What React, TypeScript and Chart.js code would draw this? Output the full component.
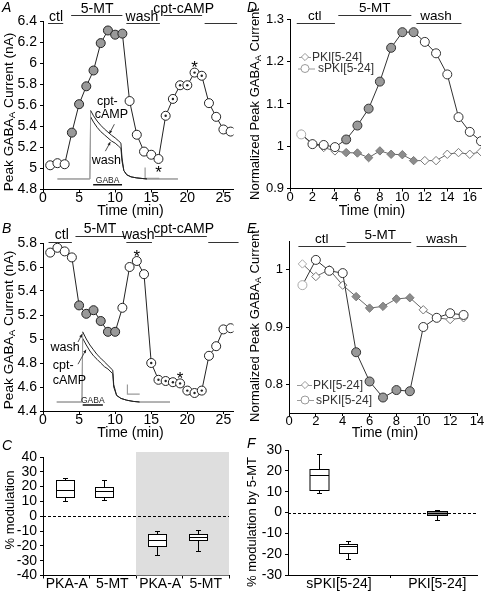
import React, { useEffect, useRef } from 'react';
import { Chart, registerables } from 'chart.js';

Chart.register(...registerables);

const FONT = '"Liberation Sans", Arial, Helvetica, sans-serif';
const PAGE_W = 490;
const PAGE_H = 596;
const GRAY = '#999999';

// ======================= DATA =======================
// ---- Panel A (example cell, 5-MT enhances) ----
const timeA = [1, 2, 3, 4, 5, 6, 7, 8, 9, 10, 11, 12, 13, 14, 15, 16, 17, 18, 19, 20, 21, 22, 23, 24, 25, 26];
const currentA = [5.03, 5.05, 5.04, 5.34, 5.61, 5.78, 5.93, 6.19, 6.31, 6.27, 6.28, 5.64, 5.32, 5.16, 5.13, 5.09, 5.5, 5.66, 5.79, 5.79, 5.91, 5.88, 5.62, 5.49, 5.37, 5.35];
const phaseA = ['w', 'w', 'w', 'g', 'g', 'g', 'g', 'g', 'g', 'g', 'g', 'w', 'w', 'w', 'w', 'w', 'p', 'p', 'p', 'p', 'p', 'p', 'w', 'w', 'w', 'w'];
const starIdxA = [15, 20];
const starDirA = [1, -1];
const periodsA: [string, number, number, number, number][] = [
  ['ctl', 0.7, 2.8, 1.8, 0],
  ['5-MT', 3.9, 11.0, 7.5, 1],
  ['wash', 11.55, 16.2, 13.7, 0],
  ['cpt-cAMP', 16.7, 22.05, 19.5, 1],
  ['', 22.4, 26.9, 0, 0],
];
const yTicksA = [4.8, 5, 5.2, 5.4, 5.6, 5.8, 6, 6.2, 6.4];
const xTicksAB = [0, 5, 10, 15, 20, 25];
// inset current traces (A)
const traceTimeA = [2.0, 6.5, 6.6, 7.0, 7.5, 8.0, 8.5, 9.0, 9.5, 10.0, 10.5, 10.8, 10.95, 11.2, 11.6, 12.2, 13.0, 14.4, 18.7];
const traceCptA = [4.9, 4.9, 5.55, 5.5, 5.45, 5.41, 5.375, 5.345, 5.315, 5.29, 5.26, 5.24, 5.1, 4.98, 4.94, 4.92, 4.91, 4.9, 4.9];
const traceWashA = [4.9, 4.9, 5.49, 5.44, 5.39, 5.35, 5.32, 5.29, 5.26, 5.24, 5.21, 5.19, 5.07, 4.98, 4.94, 4.92, 4.91, 4.9, 4.9];
const gabaTimeA = [6.95, 10.95];
const gabaLevelA = 4.845;
const scaleTimeA = [14.15, 14.15, 16.1];
const scaleValA = [5.01, 4.905, 4.905];
const insetTextA: [string, number, number, CanvasTextAlign][] = [
  ['cpt-', 8.92, 5.633, 'center'],
  ['cAMP', 9.47, 5.51, 'center'],
  ['wash', 8.78, 5.078, 'center'],
];
const arrowsA = [
  [9.89, 5.42, 9.2, 5.33],
  [8.64, 5.164, 9.33, 5.25],
];

// ---- Panel B (example cell, 5-MT inhibits) ----
const timeB = [1, 2, 3, 4, 5, 6, 7, 8, 9, 10, 11, 12, 13, 14, 15, 16, 17, 18, 19, 20, 21, 22, 23, 24, 25, 26];
const currentB = [5.72, 5.76, 5.73, 5.68, 5.28, 5.21, 5.24, 5.15, 5.06, 5.06, 5.26, 5.6, 5.65, 5.54, 4.8, 4.66, 4.65, 4.64, 4.63, 4.57, 4.55, 4.57, 4.86, 4.94, 5.08, 5.09];
const phaseB = ['w', 'w', 'w', 'w', 'g', 'g', 'g', 'g', 'g', 'g', 'w', 'w', 'w', 'w', 'p', 'p', 'p', 'p', 'p', 'p', 'p', 'p', 'w', 'w', 'w', 'w'];
const starIdxB = [12, 18];
const starDirB = [-1, -1];
const periodsB: [string, number, number, number, number][] = [
  ['ctl', 0.77, 4.0, 2.6, 0],
  ['5-MT', 4.5, 11.4, 7.9, 1],
  ['wash', 11.55, 15.1, 13.2, 0],
  ['cpt-cAMP', 15.5, 22.7, 19.5, 1],
  ['', 22.9, 27.1, 0, 0],
];
const yTicksB = [4.4, 4.6, 4.8, 5, 5.2, 5.4, 5.6, 5.8];
const traceTimeB = [1.9, 5.4, 5.5, 6.0, 6.5, 7.0, 7.5, 8.0, 8.5, 9.0, 9.67, 9.8, 10.2, 10.8, 11.6, 12.5, 13.4, 17.6];
const traceWashB = [4.475, 4.475, 5.06, 5.0, 4.95, 4.91, 4.87, 4.84, 4.81, 4.78, 4.74, 4.62, 4.53, 4.505, 4.49, 4.48, 4.475, 4.475];
const traceCptB = [4.475, 4.475, 5.005, 4.95, 4.9, 4.86, 4.83, 4.8, 4.77, 4.75, 4.71, 4.6, 4.53, 4.505, 4.49, 4.48, 4.475, 4.475];
const gabaTimeB = [5.5, 8.3];
const gabaLevelB = 4.45;
const scaleTimeB = [11.7, 11.7, 13.4];
const scaleValB = [4.62, 4.54, 4.54];
const insetTextB: [string, number, number, CanvasTextAlign][] = [
  ['wash', 3.05, 4.925, 'center'],
  ['cpt-', 1.35, 4.775, 'left'],
  ['cAMP', 1.35, 4.65, 'left'],
];
const arrowsB = [
  [4.85, 4.975, 5.41, 5.04],
  [4.85, 4.79, 5.96, 4.91],
];

// ---- Panel C (box plots, % modulation) ----
const catNamesC = ['PKA-A', '5-MT', 'PKA-A', '5-MT'];
const catPosC = [0.51, 1.49, 2.52, 3.5];
const boxPosC = [0.48, 1.32, 2.46, 3.33];
const minC = [10.5, 10.9, -26.4, -23.2];
const q1C = [12.7, 13.2, -19.8, -16.1];
const medC = [18, 16.8, -15.7, -14.1];
const q3C = [24.5, 20, -12.3, -11.8];
const maxC = [25.7, 24.5, -10, -9.3];
const xTicksC = [0, 0.51, 1, 1.49, 2, 2.52, 3, 3.5, 4];
const yTicksC = [-40, -30, -20, -10, 0, 10, 20, 30, 40];

// ---- Panel D (normalized, 5-MT enhancing cells) ----
const timeD = [1, 2, 3, 4, 5, 6, 7, 8, 9, 10, 11, 12, 13, 14, 15, 16, 17];
const sPkiD = [1.028, 1.005, 1.003, 0.998, 1.016, 1.049, 1.089, 1.153, 1.233, 1.27, 1.27, 1.247, 1.22, 1.17, 1.069, 1.034, 1.012];
const pkiD = [1.029, 1.006, 0.997, 0.989, 0.985, 0.984, 0.973, 0.989, 0.981, 0.98, 0.966, 0.966, 0.966, 0.981, 0.985, 0.981, 0.987];
const phaseD = ['w', 'w', 'w', 'w', 'g', 'g', 'g', 'g', 'g', 'g', 'g', 'w', 'w', 'w', 'w', 'w', 'w'];
const periodsD: [string, number, number, number, number][] = [
  ['ctl', 0.6, 4.0, 2.2, 0],
  ['5-MT', 4.3, 10.8, 7.55, 1],
  ['wash', 11.25, 15.26, 13.0, 0],
];
const xTicksD = [0, 2, 4, 6, 8, 10, 12, 14, 16];
const yTicksD = [0.9, 1, 1.1, 1.2, 1.3];

// ---- Panel E (normalized, 5-MT inhibiting cells) ----
const timeE = [1, 2, 3, 4, 5, 6, 7, 8, 9, 10, 11, 12, 13];
const sPkiE = [0.973, 1.017, 0.998, 0.994, 0.856, 0.805, 0.777, 0.79, 0.788, 0.9, 0.916, 0.924, 0.921];
const pkiE = [1.01, 0.988, 1.0, 0.973, 0.953, 0.933, 0.936, 0.949, 0.951, 0.93, 0.916, 0.913, 0.916];
const phaseE = ['w', 'w', 'w', 'w', 'g', 'g', 'g', 'g', 'g', 'w', 'w', 'w', 'w'];
const periodsE: [string, number, number, number, number][] = [
  ['ctl', 0.7, 4.2, 2.43, 0],
  ['5-MT', 4.3, 9.1, 6.8, 1],
  ['wash', 9.5, 13.2, 11.4, 0],
];
const xTicksE = [0, 2, 4, 6, 8, 10, 12, 14];
const yTicksE = [0.8, 0.9, 1];

// ---- Panel F (box plots, % modulation by 5-MT) ----
const catNamesF = ['sPKI[5-24]', 'PKI[5-24]'];
const catPosF = [0.54, 1.58];
const boxPosF = [0.33, 0.635, 1.58];
const minF = [9.5, -22.5, -3.7];
const q1F = [11, -19.4, -1.4];
const medF = [18.1, -15.9, -0.3];
const q3F = [21, -14.9, 0.6];
const maxF = [28.3, -13.8, 1.3];
const xTicksF = [0.54, 1.08, 1.58];
const yTicksF = [-30, -20, -10, 0, 10, 20, 30];

// ======================= HELPERS =======================
const pts = (xs: number[], ys: number[]) => xs.map((x, i) => ({ x, y: ys[i] }));
const fillFor = (p: string) => (p === 'g' ? GRAY : '#ffffff');

type Area = { l: number; t: number; r: number; b: number };

function drawVTitle(ctx: CanvasRenderingContext2D, parts: [string, boolean][], cx: number, cy: number, size: number) {
  ctx.save();
  ctx.translate(cx, cy);
  ctx.rotate(-Math.PI / 2);
  const widths = parts.map(([t, sub]) => {
    ctx.font = `${sub ? size * 0.72 : size}px ${FONT}`;
    return ctx.measureText(t).width;
  });
  const total = widths.reduce((a, b) => a + b, 0);
  let xx = -total / 2;
  ctx.textBaseline = 'middle';
  ctx.textAlign = 'left';
  ctx.fillStyle = '#000';
  parts.forEach(([t, sub], i) => {
    ctx.font = `${sub ? size * 0.72 : size}px ${FONT}`;
    ctx.fillText(t, xx, sub ? size * 0.25 : 0);
    xx += widths[i];
  });
  ctx.restore();
}

function decoPlugin(cfg: any) {
  return {
    id: 'deco',
    beforeDatasetsDraw(chart: any) {
      const { ctx, chartArea: a } = chart;
      const x = chart.scales.x;
      const y = chart.scales.y;
      ctx.save();
      if (cfg.shade) {
        const x0 = x.getPixelForValue(cfg.shade.from);
        const x1 = x.getPixelForValue(cfg.shade.to);
        ctx.fillStyle = '#dedede';
        ctx.fillRect(x0, a.top - cfg.shade.above, x1 - x0, a.bottom - a.top + cfg.shade.above);
      }
      if (cfg.zero) {
        const y0 = Math.round(y.getPixelForValue(0)) + 0.5;
        ctx.strokeStyle = '#000';
        ctx.lineWidth = 1;
        ctx.setLineDash([3, 2]);
        ctx.beginPath();
        ctx.moveTo(a.left, y0);
        ctx.lineTo(a.right, y0);
        ctx.stroke();
        ctx.setLineDash([]);
      }
      ctx.restore();
    },
    afterDatasetsDraw(chart: any) {
      const { ctx } = chart;
      const x = chart.scales.x;
      const y = chart.scales.y;
      ctx.save();
      // box plots
      if (cfg.boxes) {
        const bx = cfg.boxes;
        bx.pos.forEach((p: number, i: number) => {
          const xc = Math.round(x.getPixelForValue(p)) + 0.5;
          const hw = bx.half[i];
          const yMin = Math.round(y.getPixelForValue(bx.min[i])) + 0.5;
          const yQ1 = Math.round(y.getPixelForValue(bx.q1[i])) + 0.5;
          const yMed = Math.round(y.getPixelForValue(bx.med[i])) + 0.5;
          const yQ3 = Math.round(y.getPixelForValue(bx.q3[i])) + 0.5;
          const yMax = Math.round(y.getPixelForValue(bx.max[i])) + 0.5;
          ctx.strokeStyle = '#000';
          ctx.lineWidth = 1;
          ctx.beginPath();
          ctx.moveTo(xc, yQ3); ctx.lineTo(xc, yMax);
          ctx.moveTo(xc - 2.5, yMax); ctx.lineTo(xc + 2.5, yMax);
          ctx.moveTo(xc, yQ1); ctx.lineTo(xc, yMin);
          ctx.moveTo(xc - 2.5, yMin); ctx.lineTo(xc + 2.5, yMin);
          ctx.stroke();
          ctx.fillStyle = bx.fill[i];
          ctx.fillRect(xc - hw, yQ3, 2 * hw, yQ1 - yQ3);
          ctx.strokeRect(xc - hw, yQ3, 2 * hw, yQ1 - yQ3);
          ctx.beginPath();
          ctx.moveTo(xc - hw, yMed); ctx.lineTo(xc + hw, yMed);
          ctx.stroke();
        });
      }
      // inset labels
      if (cfg.texts) {
        ctx.fillStyle = '#000';
        ctx.font = `${cfg.texts.size}px ${FONT}`;
        ctx.textBaseline = 'middle';
        cfg.texts.list.forEach(([t, tv, vv, al]: [string, number, number, CanvasTextAlign]) => {
          ctx.textAlign = al;
          ctx.fillText(t, x.getPixelForValue(tv), y.getPixelForValue(vv));
        });
      }
      if (cfg.arrows) {
        ctx.strokeStyle = '#222';
        ctx.fillStyle = '#222';
        ctx.lineWidth = 0.8;
        cfg.arrows.forEach(([t0, v0, t1, v1]: number[]) => {
          const x0 = x.getPixelForValue(t0), y0 = y.getPixelForValue(v0);
          const x1 = x.getPixelForValue(t1), y1 = y.getPixelForValue(v1);
          const ang = Math.atan2(y1 - y0, x1 - x0);
          ctx.beginPath();
          ctx.moveTo(x0, y0); ctx.lineTo(x1, y1);
          ctx.stroke();
          ctx.beginPath();
          ctx.moveTo(x1, y1);
          ctx.lineTo(x1 - 3.5 * Math.cos(ang - 0.45), y1 - 3.5 * Math.sin(ang - 0.45));
          ctx.lineTo(x1 - 3.5 * Math.cos(ang + 0.45), y1 - 3.5 * Math.sin(ang + 0.45));
          ctx.closePath();
          ctx.fill();
        });
      }
      if (cfg.gaba) {
        const g = cfg.gaba;
        ctx.fillStyle = '#222';
        ctx.font = `8.5px ${FONT}`;
        ctx.textAlign = 'center';
        ctx.textBaseline = 'alphabetic';
        ctx.fillText('GABA', x.getPixelForValue((g.from + g.to) / 2), y.getPixelForValue(g.v) - 2);
      }
      if (cfg.stars) {
        const s = cfg.stars;
        const size = 17;
        ctx.fillStyle = '#000';
        ctx.font = `${size}px ${FONT}`;
        ctx.textAlign = 'center';
        ctx.textBaseline = 'alphabetic';
        s.idx.forEach((i: number, k: number) => {
          const px = x.getPixelForValue(s.xs[i]);
          const py = y.getPixelForValue(s.ys[i]) + s.dir[k] * 9;
          ctx.fillText('*', px, py + 0.57 * size);
        });
      }
      ctx.restore();
    },
    afterDraw(chart: any) {
      const { ctx } = chart;
      const x = chart.scales.x;
      ctx.save();
      // treatment periods
      if (cfg.periods) {
        const pr = cfg.periods;
        ctx.strokeStyle = '#333';
        ctx.lineWidth = 1;
        ctx.fillStyle = '#000';
        ctx.font = `${pr.size}px ${FONT}`;
        ctx.textAlign = 'center';
        ctx.textBaseline = 'alphabetic';
        pr.list.forEach(([name, from, to, at, lvl]: [string, number, number, number, number]) => {
          const yy = Math.round(lvl ? pr.highY : pr.lowY) + 0.5;
          ctx.beginPath();
          ctx.moveTo(x.getPixelForValue(from), yy);
          ctx.lineTo(x.getPixelForValue(to), yy);
          ctx.stroke();
          if (name) ctx.fillText(name, x.getPixelForValue(at), yy - pr.gap);
        });
      }
      // legend
      if (cfg.legend) {
        cfg.legend.forEach((e: any) => {
          ctx.strokeStyle = '#9a9a9a';
          ctx.lineWidth = 1;
          ctx.beginPath();
          ctx.moveTo(e.x0, e.y + 0.5);
          ctx.lineTo(e.x1, e.y + 0.5);
          ctx.stroke();
          ctx.fillStyle = '#fff';
          ctx.strokeStyle = '#9a9a9a';
          ctx.beginPath();
          if (e.marker === 'diamond') {
            const r = 3.6;
            ctx.moveTo(e.xm, e.y - r); ctx.lineTo(e.xm + r, e.y); ctx.lineTo(e.xm, e.y + r); ctx.lineTo(e.xm - r, e.y);
            ctx.closePath();
          } else {
            ctx.arc(e.xm, e.y, 4, 0, Math.PI * 2);
          }
          ctx.fill();
          ctx.stroke();
          ctx.fillStyle = '#333';
          ctx.font = `12px ${FONT}`;
          ctx.textAlign = 'left';
          ctx.textBaseline = 'middle';
          ctx.fillText(e.text, e.xt, e.y + 0.5);
        });
      }
      // titles and letter
      if (cfg.yTitle) drawVTitle(ctx, cfg.yTitle.parts, cfg.yTitle.x, cfg.yTitle.y, cfg.yTitle.size);
      if (cfg.xTitle) {
        ctx.fillStyle = '#000';
        ctx.font = `${cfg.xTitle.size}px ${FONT}`;
        ctx.textAlign = 'center';
        ctx.textBaseline = 'middle';
        ctx.fillText(cfg.xTitle.text, cfg.xTitle.x, cfg.xTitle.y);
      }
      if (cfg.letter) {
        ctx.fillStyle = '#000';
        ctx.font = `italic 14px ${FONT}`;
        ctx.textAlign = 'left';
        ctx.textBaseline = 'alphabetic';
        ctx.fillText(cfg.letter[0], cfg.letter[1], cfg.letter[2]);
      }
      ctx.restore();
    },
  };
}

type PanelSpec = {
  area: Area;
  x: [number, number];
  y: [number, number];
  xTicks: number[];
  yTicks: number[];
  xLabel: (v: number) => string;
  xMark?: (v: number) => boolean;
  tickSize: number;
  datasets: any[];
  deco: any;
};

function buildChart(canvas: HTMLCanvasElement, p: PanelSpec) {
  const YW = 36;
  const XH = 18;
  return new Chart(canvas, {
    type: 'line',
    data: { datasets: p.datasets },
    options: {
      animation: false,
      responsive: false,
      maintainAspectRatio: false,
      events: [],
      layout: {
        padding: { left: p.area.l - YW, top: p.area.t, right: PAGE_W - p.area.r, bottom: PAGE_H - p.area.b - XH },
      },
      plugins: { legend: { display: false }, tooltip: { enabled: false }, title: { display: false } },
      scales: {
        x: {
          type: 'linear',
          bounds: 'data',
          min: p.x[0],
          max: p.x[1],
          afterFit: (s: any) => { s.height = XH; },
          afterBuildTicks: (s: any) => { s.ticks = p.xTicks.map((v) => ({ value: v })); },
          grid: {
            drawOnChartArea: false,
            drawTicks: true,
            tickLength: 3,
            color: '#000',
            tickColor: (c: any) => (!p.xMark || p.xMark(c.tick ? c.tick.value : 0) ? '#000' : 'rgba(0,0,0,0)'),
          },
          border: { display: true, color: '#000', width: 1 },
          ticks: {
            autoSkip: false,
            maxRotation: 0,
            minRotation: 0,
            padding: -1,
            color: '#000',
            font: { family: FONT, size: p.tickSize, lineHeight: 1 },
            callback: (v: any) => p.xLabel(v),
          },
        },
        y: {
          type: 'linear',
          bounds: 'data',
          min: p.y[0],
          max: p.y[1],
          afterFit: (s: any) => { s.width = YW; },
          afterBuildTicks: (s: any) => { s.ticks = p.yTicks.map((v) => ({ value: v })); },
          grid: { drawOnChartArea: false, drawTicks: true, tickLength: 3, color: '#000' },
          border: { display: true, color: '#000', width: 1 },
          ticks: {
            autoSkip: false,
            padding: 3,
            color: '#000',
            font: { family: FONT, size: p.tickSize, lineHeight: 1 },
            callback: (v: any) => String(v),
          },
        },
      },
    } as any,
    plugins: [decoPlugin(p.deco)],
  });
}

// datasets for example-cell panels (A and B)
function exampleDatasets(times: number[], vals: number[], phase: string[], trTime: number[], trHi: number[], trLo: number[], gTime: number[], gLevel: number, sT: number[], sV: number[]) {
  const n = trTime.length;
  const seg = {
    borderColor: (c: any) => (c.p0DataIndex <= 1 || c.p0DataIndex >= n - 2 ? '#9a9a9a' : undefined),
  };
  return [
    {
      data: pts(times, vals), order: 0, showLine: false,
      pointRadius: phase.map((q) => (q === 'p' ? 1.2 : 0)), pointBackgroundColor: '#222', pointBorderWidth: 0,
    },
    {
      data: pts(times, vals), order: 1, borderColor: '#222', borderWidth: 1, tension: 0,
      pointRadius: 4.5, pointBackgroundColor: phase.map(fillFor), pointBorderColor: '#222', pointBorderWidth: 1,
    },
    { data: pts(trTime, trHi), order: 3, borderColor: '#222', borderWidth: 1, pointRadius: 0, tension: 0, segment: seg },
    { data: pts(trTime, trLo), order: 3, borderColor: '#222', borderWidth: 1, pointRadius: 0, tension: 0, segment: seg },
    { data: pts(gTime, [gLevel, gLevel]), order: 3, borderColor: '#111', borderWidth: 1.5, pointRadius: 0 },
    { data: pts(sT, sV), order: 3, borderColor: '#9a9a9a', borderWidth: 1.2, pointRadius: 0, tension: 0 },
  ];
}

function normDatasets(times: number[], sPki: number[], pki: number[], phase: string[]) {
  return [
    {
      data: pts(times, sPki), order: 1, borderColor: '#333', borderWidth: 1, tension: 0,
      pointRadius: 4.5, pointBackgroundColor: phase.map(fillFor),
      pointBorderColor: phase.map((q, i) => (i === 0 ? '#aaaaaa' : '#333')), pointBorderWidth: 1,
    },
    {
      data: pts(times, pki), order: 2, borderColor: '#666', borderWidth: 1, tension: 0,
      pointStyle: 'rectRot', pointRadius: 4.2, pointBackgroundColor: phase.map((q) => (q === 'g' ? '#8c8c8c' : '#fff')),
      pointBorderColor: phase.map((q, i) => (i === 0 ? '#aaaaaa' : '#777')), pointBorderWidth: 1,
    },
  ];
}

const numLabel = (v: number) => String(v);
const catLabel = (pos: number[], names: string[]) => (v: number) => {
  const i = pos.indexOf(v);
  return i >= 0 ? names[i] : '';
};

const GABA_TITLE: [string, boolean][] = [['Peak GABA', false], ['A', true], [' Current (nA)', false]];
const NORM_TITLE: [string, boolean][] = [['Normalized Peak GABA', false], ['A', true], [' Current', false]];

const panels: PanelSpec[] = [
  // A
  {
    area: { l: 43, t: 21, r: 233.5, b: 189.5 }, x: [0, 26.4], y: [4.8, 6.4],
    xTicks: xTicksAB, yTicks: yTicksA, xLabel: numLabel, tickSize: 14,
    datasets: exampleDatasets(timeA, currentA, phaseA, traceTimeA, traceCptA, traceWashA, gabaTimeA, gabaLevelA, scaleTimeA, scaleValA),
    deco: {
      letter: ['A', 2, 12],
      yTitle: { parts: GABA_TITLE, x: 9, y: 112, size: 13.7 },
      xTitle: { text: 'Time (min)', x: 130.5, y: 211, size: 14 },
      periods: { list: periodsA, lowY: 22.5, highY: 15, gap: 3, size: 14 },
      texts: { list: insetTextA, size: 12.5 },
      arrows: arrowsA,
      gaba: { from: gabaTimeA[0], to: gabaTimeA[1], v: gabaLevelA },
      stars: { idx: starIdxA, dir: starDirA, xs: timeA, ys: currentA },
    },
  },
  // B
  {
    area: { l: 43, t: 243, r: 233.5, b: 411 }, x: [0, 26.4], y: [4.4, 5.8],
    xTicks: xTicksAB, yTicks: yTicksB, xLabel: numLabel, tickSize: 14,
    datasets: exampleDatasets(timeB, currentB, phaseB, traceTimeB, traceWashB, traceCptB, gabaTimeB, gabaLevelB, scaleTimeB, scaleValB),
    deco: {
      letter: ['B', 2, 233],
      yTitle: { parts: GABA_TITLE, x: 9, y: 330, size: 13.7 },
      xTitle: { text: 'Time (min)', x: 130.5, y: 433, size: 14 },
      periods: { list: periodsB, lowY: 241.7, highY: 236, gap: 3.5, size: 14 },
      texts: { list: insetTextB, size: 12.5 },
      arrows: arrowsB,
      gaba: { from: gabaTimeB[0], to: gabaTimeB[1], v: gabaLevelB },
      stars: { idx: starIdxB, dir: starDirB, xs: timeB, ys: currentB },
    },
  },
  // C
  {
    area: { l: 43, t: 457, r: 229, b: 575.5 }, x: [0, 4], y: [-40, 40],
    xTicks: xTicksC, yTicks: yTicksC, xLabel: catLabel(catPosC, catNamesC), xMark: (v) => Number.isInteger(v), tickSize: 14,
    datasets: [{ data: [] }],
    deco: {
      letter: ['C', 2, 450],
      yTitle: { parts: [['% modulation', false]], x: 10, y: 510, size: 13 },
      shade: { from: 2, to: 4, above: 5 },
      zero: true,
      boxes: { pos: boxPosC, min: minC, q1: q1C, med: medC, q3: q3C, max: maxC, fill: ['#fff', '#fff', '#fff', '#fff'], half: [9, 9, 9, 9] },
    },
  },
  // D
  {
    area: { l: 290, t: 19.5, r: 481, b: 188.5 }, x: [0, 17], y: [0.9, 1.3],
    xTicks: xTicksD, yTicks: yTicksD, xLabel: numLabel, tickSize: 13,
    datasets: normDatasets(timeD, sPkiD, pkiD, phaseD),
    deco: {
      letter: ['D', 247, 12],
      yTitle: { parts: NORM_TITLE, x: 255, y: 104, size: 13 },
      xTitle: { text: 'Time (min)', x: 372, y: 211, size: 14 },
      periods: { list: periodsD, lowY: 22.7, highY: 15, gap: 3.5, size: 13.5 },
      legend: [
        { marker: 'diamond', text: 'PKI[5-24]', x0: 299, x1: 311, xm: 305, xt: 312, y: 57 },
        { marker: 'circle', text: 'sPKI[5-24]', x0: 298, x1: 315, xm: 305, xt: 318, y: 68.5 },
      ],
    },
  },
  // E
  {
    area: { l: 289, t: 241, r: 477, b: 413 }, x: [0, 14], y: [0.75, 1.05],
    xTicks: xTicksE, yTicks: yTicksE, xLabel: numLabel, tickSize: 13,
    datasets: normDatasets(timeE, sPkiE, pkiE, phaseE),
    deco: {
      letter: ['E', 247, 233],
      yTitle: { parts: NORM_TITLE, x: 255, y: 326, size: 13 },
      xTitle: { text: 'Time (min)', x: 385, y: 433, size: 14 },
      periods: { list: periodsE, lowY: 246, highY: 241.7, gap: 4, size: 13.5 },
      legend: [
        { marker: 'diamond', text: 'PKI[5-24]', x0: 297, x1: 312, xm: 305, xt: 313, y: 385 },
        { marker: 'circle', text: 'sPKI[5-24]', x0: 297, x1: 314, xm: 305, xt: 316, y: 400 },
      ],
    },
  },
  // F
  {
    area: { l: 288, t: 450, r: 477, b: 575 }, x: [0, 2], y: [-30, 30],
    xTicks: xTicksF, yTicks: yTicksF, xLabel: catLabel(catPosF, catNamesF), xMark: (v) => v === 1.08, tickSize: 14,
    datasets: [{ data: [] }],
    deco: {
      letter: ['F', 247, 448],
      yTitle: { parts: [['% modulation by 5-MT', false]], x: 252, y: 522, size: 13 },
      zero: true,
      boxes: { pos: boxPosF, min: minF, q1: q1F, med: medF, q3: q3F, max: maxF, fill: ['#fff', '#fff', '#8c8c8c'], half: [9.5, 9, 10] },
    },
  },
];

function Panel({ spec }: { spec: PanelSpec }) {
  const ref = useRef<HTMLCanvasElement | null>(null);
  useEffect(() => {
    if (!ref.current) return;
    const chart = buildChart(ref.current, spec);
    return () => chart.destroy();
  }, [spec]);
  return (
    <canvas
      ref={ref}
      width={PAGE_W}
      height={PAGE_H}
      style={{ position: 'absolute', left: 0, top: 0, width: PAGE_W, height: PAGE_H }}
    />
  );
}

export default function App() {
  return (
    <div style={{ position: 'fixed', left: 0, top: 0, width: PAGE_W, height: PAGE_H, background: '#fff', overflow: 'hidden' }}>
      {panels.map((p, i) => (
        <Panel key={i} spec={p} />
      ))}
    </div>
  );
}
